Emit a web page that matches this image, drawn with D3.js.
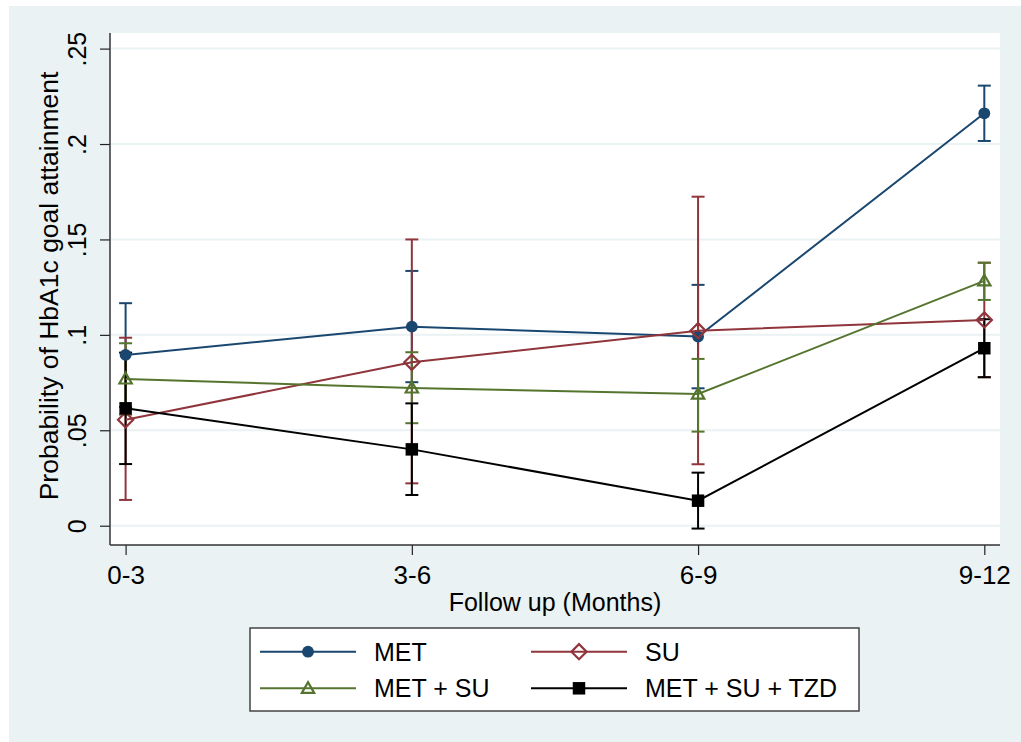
<!DOCTYPE html>
<html>
<head>
<meta charset="utf-8">
<script src="https://cdn.jsdelivr.net/npm/d3@7"></script>
<style>
  body { margin: 0; background: #ffffff; }
  svg { display: block; font-family: "Liberation Sans", Arial, sans-serif; }
</style>
</head>
<body>
<script>
// periodi di follow-up (asse x)
const periodi = ["0-3", "3-6", "6-9", "9-12"];
const nomiSerie = ["MET", "SU", "MET + SU", "MET + SU + TZD"];

// stime e intervalli di confidenza
const metValori = [0.0895, 0.1043, 0.0991, 0.2161];
const metInf = [0.0622, 0.0752, 0.0720, 0.2016];
const metSup = [0.1166, 0.1335, 0.1262, 0.2306];

const suValori = [0.0555, 0.0856, 0.1022, 0.1078];
const suInf = [0.0135, 0.0222, 0.0322, 0.0778];
const suSup = [0.0985, 0.1500, 0.1724, 0.1378];

const metSuValori = [0.0769, 0.0722, 0.0690, 0.1283];
const metSuInf = [0.0582, 0.0537, 0.0493, 0.1183];
const metSuSup = [0.0956, 0.0909, 0.0874, 0.1378];

const tzdValori = [0.0615, 0.0400, 0.0131, 0.0930];
const tzdInf = [0.0323, 0.0161, -0.0015, 0.0778];
const tzdSup = [0.0907, 0.0641, 0.0278, 0.1082];

const tickY = [0, 0.05, 0.1, 0.15, 0.2, 0.25];
const etichetteY = ["0", ".05", ".1", ".15", ".2", ".25"];

const colori = ["#1a476f", "#90353b", "#55752f", "#000000"];
const simboli = ["cerchio", "rombo", "triangolo", "quadrato"];

const serie = [
    { nome: nomiSerie[0], valori: metValori, inf: metInf, sup: metSup },
    { nome: nomiSerie[1], valori: suValori, inf: suInf, sup: suSup },
    { nome: nomiSerie[2], valori: metSuValori, inf: metSuInf, sup: metSuSup },
    { nome: nomiSerie[3], valori: tzdValori, inf: tzdInf, sup: tzdSup }
];
serie.forEach(function (s, i) {
    s.colore = colori[i];
    s.simbolo = simboli[i];
    s.punti = periodi.map(function (p, j) {
        return { periodo: p, valore: s.valori[j], inf: s.inf[j], sup: s.sup[j] };
    });
});

const larghezza = 1021, altezza = 742;
const area = { sinistra: 110, alto: 33, destra: 1000, basso: 545 };
const sfondo = "#eaf2f3";

const svg = d3.select("body").append("svg")
    .attr("width", larghezza)
    .attr("height", altezza);

// sfondo grafico
svg.append("rect")
    .attr("x", 9).attr("y", 6)
    .attr("width", larghezza - 9).attr("height", altezza - 6)
    .attr("fill", sfondo);

svg.append("rect")
    .attr("x", area.sinistra).attr("y", area.alto)
    .attr("width", area.destra - area.sinistra)
    .attr("height", area.basso - area.alto)
    .attr("fill", "#ffffff");

// scale
const scalaX = d3.scalePoint()
    .domain(periodi)
    .range([125.6, 984.3]);

const scalaY = d3.scaleLinear()
    .domain([0, 0.25])
    .range([525.7, 48.6]);

// griglia
svg.append("g")
    .selectAll("line")
    .data(tickY)
    .enter().append("line")
    .attr("x1", area.sinistra + 1).attr("x2", area.destra)
    .attr("y1", function (d) { return scalaY(d) })
    .attr("y2", function (d) { return scalaY(d) })
    .attr("stroke", sfondo)
    .attr("stroke-width", 2);

// asse y
const asseY = d3.axisLeft(scalaY)
    .tickValues(tickY)
    .tickFormat(function (d, i) { return etichetteY[i] })
    .tickSize(10);

const gY = svg.append("g")
    .attr("transform", `translate(${area.sinistra},0)`)
    .call(asseY);
gY.select(".domain").remove();
gY.selectAll(".tick line").attr("stroke", "#222").attr("stroke-width", 1.2);
gY.selectAll(".tick text")
    .attr("transform", "rotate(-90)")
    .attr("x", 0).attr("y", -24).attr("dy", 0)
    .attr("text-anchor", "middle")
    .attr("font-size", 25)
    .attr("font-family", "Liberation Sans, Arial, sans-serif")
    .attr("fill", "#000");

// asse x
const asseX = d3.axisBottom(scalaX).tickSize(10);
const gX = svg.append("g")
    .attr("transform", `translate(0,${area.basso})`)
    .call(asseX);
gX.select(".domain").remove();
gX.selectAll(".tick line").attr("stroke", "#222").attr("stroke-width", 1.2);
gX.selectAll(".tick text")
    .attr("y", 39).attr("dy", 0)
    .attr("font-size", 26)
    .attr("font-family", "Liberation Sans, Arial, sans-serif")
    .attr("fill", "#000");

// linee degli assi
svg.append("line")
    .attr("x1", area.sinistra).attr("x2", area.sinistra)
    .attr("y1", area.alto).attr("y2", area.basso)
    .attr("stroke", "#333").attr("stroke-width", 1.5);
svg.append("line")
    .attr("x1", area.sinistra).attr("x2", area.destra)
    .attr("y1", area.basso).attr("y2", area.basso)
    .attr("stroke", "#333").attr("stroke-width", 1.5);

// titoli assi
svg.append("text")
    .attr("transform", `translate(58,${(area.alto + area.basso) / 2 - 3}) rotate(-90)`)
    .attr("text-anchor", "middle")
    .attr("font-size", 26.5)
    .text("Probability of HbA1c goal attainment");

svg.append("text")
    .attr("x", (scalaX(periodi[0]) + scalaX(periodi[3])) / 2)
    .attr("y", 611)
    .attr("text-anchor", "middle")
    .attr("font-size", 25)
    .text("Follow up (Months)");

// funzione marcatore
function disegnaSimbolo(g, tipo, colore) {
    if (tipo == "cerchio") {
        g.append("path").attr("d", d3.symbol(d3.symbolCircle, 110)())
            .attr("fill", colore);
    } else if (tipo == "quadrato") {
        g.append("path").attr("d", d3.symbol(d3.symbolSquare, 156)())
            .attr("fill", colore);
    } else if (tipo == "rombo") {
        g.append("path").attr("d", d3.symbol(d3.symbolSquare, 115)())
            .attr("transform", "rotate(45)")
            .attr("fill", "none").attr("stroke", colore).attr("stroke-width", 2.2);
    } else {
        g.append("path").attr("d", d3.symbol(d3.symbolTriangle, 66)())
            .attr("transform", "translate(0,1)")
            .attr("fill", "none").attr("stroke", colore).attr("stroke-width", 2.2);
    }
}

// intervalli di confidenza (prima tutti)
const capo = 6.5;
serie.forEach(function (s) {
    const g = svg.append("g").attr("class", "ic");
    g.selectAll("line.vert")
        .data(s.punti).enter().append("line")
        .attr("x1", function (d) { return scalaX(d.periodo) })
        .attr("x2", function (d) { return scalaX(d.periodo) })
        .attr("y1", function (d) { return scalaY(d.inf) })
        .attr("y2", function (d) { return scalaY(d.sup) })
        .attr("stroke", s.colore).attr("stroke-width", 2);
    ["inf", "sup"].forEach(function (k) {
        g.selectAll("line." + k)
            .data(s.punti).enter().append("line")
            .attr("x1", function (d) { return scalaX(d.periodo) - capo })
            .attr("x2", function (d) { return scalaX(d.periodo) + capo })
            .attr("y1", function (d) { return scalaY(d[k]) })
            .attr("y2", function (d) { return scalaY(d[k]) })
            .attr("stroke", s.colore).attr("stroke-width", 2);
    });
});

// linee e marcatori
const linea = d3.line()
    .x(function (d) { return scalaX(d.periodo) })
    .y(function (d) { return scalaY(d.valore) });

serie.forEach(function (s) {
    svg.append("path")
        .datum(s.punti)
        .attr("d", linea)
        .attr("fill", "none")
        .attr("stroke", s.colore)
        .attr("stroke-width", 2);
    s.punti.forEach(function (d) {
        const g = svg.append("g")
            .attr("transform", `translate(${scalaX(d.periodo)},${scalaY(d.valore)})`);
        disegnaSimbolo(g, s.simbolo, s.colore);
    });
});

// legenda
const legenda = { x: 250, y: 628, w: 609, h: 83 };
svg.append("rect")
    .attr("x", legenda.x).attr("y", legenda.y)
    .attr("width", legenda.w).attr("height", legenda.h)
    .attr("fill", "#ffffff").attr("stroke", "#444").attr("stroke-width", 1.5);

const colonneX = [260, 531];
const righeY = [651.7, 688.3];
serie.forEach(function (s, i) {
    const cx = colonneX[i % 2];
    const cy = righeY[Math.floor(i / 2)];
    const g = svg.append("g");
    g.append("line")
        .attr("x1", cx).attr("x2", cx + 96)
        .attr("y1", cy).attr("y2", cy)
        .attr("stroke", s.colore).attr("stroke-width", 2);
    const m = g.append("g").attr("transform", `translate(${cx + 48},${cy})`);
    disegnaSimbolo(m, s.simbolo, s.colore);
    g.append("text")
        .attr("x", cx + 114)
        .attr("y", cy + 9)
        .attr("font-size", 25)
        .text(s.nome);
});
</script>
</body>
</html>
